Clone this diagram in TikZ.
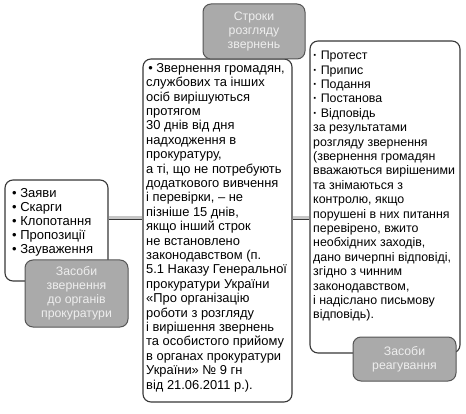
\documentclass[tikz,border=0pt]{standalone}
\usepackage{fontspec}
\setmainfont{Liberation Sans}
\usepackage{xcolor}
\usetikzlibrary{positioning}
\definecolor{boxline}{RGB}{55,55,55}
\definecolor{tabfill}{RGB}{170,170,170}
\definecolor{tabline}{RGB}{85,85,85}
\definecolor{tabtext}{RGB}{238,238,238}
\begin{document}
\begin{tikzpicture}[x=1pt, y=-1pt,
    panel/.style={draw=boxline, line width=1.1pt, fill=white, rounded corners=8pt},
    tab/.style={draw=tabline, line width=1pt, fill=tabfill, rounded corners=8pt, text=tabtext, align=center, font=\fontsize{12.3}{14}\selectfont},
    body/.style={anchor=north west, inner sep=0pt, align=left, font=\fontsize{12.4}{14.4}\selectfont},
    link/.style={draw=boxline, line width=0.8pt, double=gray!45, double distance=3pt}]
        \useasboundingbox (0,0) rectangle (466,414);

        % white panels
        \node[panel, minimum width=103pt, minimum height=101pt] (appeal) at (56.5,230.5) {};
        \node[panel, minimum width=150pt, minimum height=312pt] (reply) at (385,197) {};
        \node[panel, minimum width=149pt, minimum height=343pt] (centre) at (217.5,230.5) {};

        \node[body, font=\fontsize{12.9}{14.4}\selectfont] (centretext) at (146,63) {%
            \,• Звернення громадян,\\ службових та інших\\ осіб вирішуються\\ протягом\\
            30 днів від дня\\ надходження в\\ прокуратуру,\\ а ті, що не потребують\\
            додаткового вивчення\\ і перевірки, – не\\ пізніше 15 днів,\\ якщо інший строк\\
            не встановлено\\ законодавством (п.\\ 5.1 Наказу Генеральної\\ прокуратури України\\
            «Про організацію\\ роботи з розгляду\\ і вирішення звернень\\ та особистого прийому\\
            в органах прокуратури\\ України» № 9 гн\\ від 21.06.2011 р.).};
        \node[body, font=\fontsize{13}{14.1}\selectfont] (appealtext) at (12,188) {• Заяви\\ • Скарги\\ • Клопотання\\ • Пропозиції\\ • Зауваження};
        \node[body] (replytext) at (313,51) {\textbf{·} Протест\\ \textbf{·} Припис\\ \textbf{·} Подання\\ \textbf{·} Постанова\\ \textbf{·} Відповідь\\
            за результатами\\ розгляду звернення\\ (звернення громадян\\ вважаються вирішеними\\
            та знімаються з\\ контролю, якщо\\ порушені в них питання\\ перевірено, вжито\\
            необхідних заходів,\\ дано вичерпні відповіді,\\ згідно з чинним\\ законодавством,\\
            і надіслано письмову\\ відповідь).};

        % grey tabs
        \node[tab, minimum width=102pt, minimum height=55pt] (terms) at (254,31.5) {Строки\\ розгляду\\ звернень};
        \node[tab, minimum width=103pt, minimum height=67pt] (ways) at (76.5,293.5) {Засоби\\ звернення\\ до органів\\ прокуратури};
        \node[tab, minimum width=103pt, minimum height=44pt] (response) at (404.5,359) {Засоби\\ реагування};

        \coordinate (joint) at (0,218);
        \foreach \from/\to in {appeal/centre, centre/reply}
            \draw[link] (\from.east |- joint) -- (\to.west |- joint);
\end{tikzpicture}
\end{document}
